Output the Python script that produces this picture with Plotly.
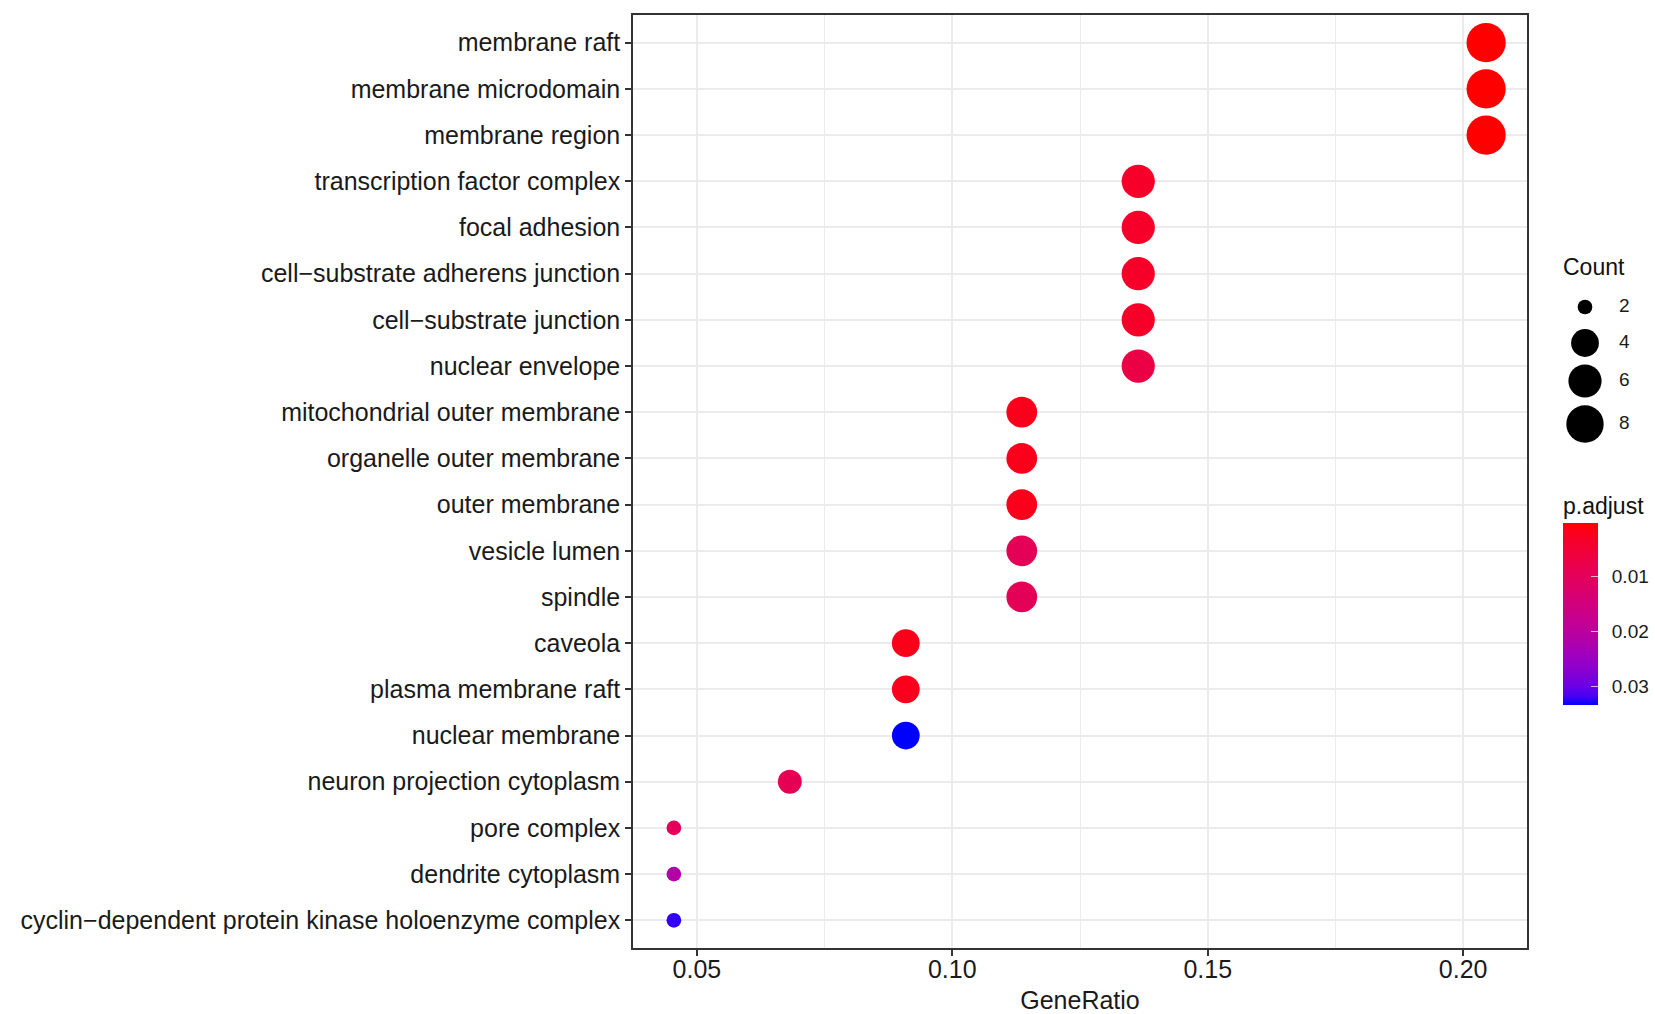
import plotly.graph_objects as go

# ---------------- data ----------------
terms = [
    "membrane raft", "membrane microdomain", "membrane region",
    "transcription factor complex", "focal adhesion",
    "cell\u2212substrate adherens junction", "cell\u2212substrate junction",
    "nuclear envelope", "mitochondrial outer membrane",
    "organelle outer membrane", "outer membrane", "vesicle lumen", "spindle",
    "caveola", "plasma membrane raft", "nuclear membrane",
    "neuron projection cytoplasm", "pore complex", "dendrite cytoplasm",
    "cyclin\u2212dependent protein kinase holoenzyme complex",
]
gene_ratio = [0.2045, 0.2045, 0.2045, 0.1364, 0.1364, 0.1364, 0.1364, 0.1364,
              0.1136, 0.1136, 0.1136, 0.1136, 0.1136, 0.0909, 0.0909, 0.0909,
              0.0682, 0.0455, 0.0455, 0.0455]
counts = [9, 9, 9, 6, 6, 6, 6, 6, 5, 5, 5, 5, 5, 4, 4, 4, 3, 2, 2, 2]
p_adjust = [0.0002, 0.0002, 0.0002, 0.0035, 0.0035, 0.0035, 0.0035, 0.0070,
            0.0020, 0.0020, 0.0020, 0.0095, 0.0095, 0.0018, 0.0022, 0.0333,
            0.0090, 0.0098, 0.0210, 0.0322]
x_ticks = [0.05, 0.10, 0.15, 0.20]
cb_ticks = [0.01, 0.02, 0.03]
size_legend = [2, 4, 6, 8]

# ---------------- style helpers ----------------
FONT = "Liberation Sans, Arial, Helvetica, sans-serif"
cmin_c, cmax_c = min(counts), max(counts)


def dot_size(c):
    # ggplot2 area palette, range c(3, 8), converted to pixels
    frac = (c - cmin_c) / (cmax_c - cmin_c)
    return 4.9 * (3 + 5 * frac ** 0.5)


def _lin(c):
    c = c / 255
    return c / 12.92 if c <= 0.04045 else ((c + 0.055) / 1.055) ** 2.4


def _gam(c):
    c = 12.92 * c if c <= 0.0031308 else 1.055 * c ** (1 / 2.4) - 0.055
    return max(0, min(255, round(c * 255)))


WP = (0.95047, 1.0, 1.08883)


def rgb2lab(rgb):
    r, g, b = (_lin(v) for v in rgb)
    X = 0.4124 * r + 0.3576 * g + 0.1805 * b
    Y = 0.2126 * r + 0.7152 * g + 0.0722 * b
    Z = 0.0193 * r + 0.1192 * g + 0.9505 * b
    def f(t):
        return t ** (1 / 3) if t > 0.008856 else 7.787 * t + 16 / 116
    fx, fy, fz = f(X / WP[0]), f(Y / WP[1]), f(Z / WP[2])
    return (116 * fy - 16, 500 * (fx - fy), 200 * (fy - fz))


def lab2rgb(lab):
    L, a, b = lab
    fy = (L + 16) / 116
    fx = fy + a / 500
    fz = fy - b / 200
    def fi(t):
        return t ** 3 if t ** 3 > 0.008856 else (t - 16 / 116) / 7.787
    X, Y, Z = fi(fx) * WP[0], fi(fy) * WP[1], fi(fz) * WP[2]
    r = 3.2406 * X - 1.5372 * Y - 0.4986 * Z
    g = -0.9689 * X + 1.8758 * Y + 0.0415 * Z
    bb = 0.0557 * X - 0.2040 * Y + 1.0570 * Z
    return "rgb(%d,%d,%d)" % (_gam(max(r, 0)), _gam(max(g, 0)), _gam(max(bb, 0)))


lab_blue = rgb2lab((0, 0, 255))
lab_red = rgb2lab((255, 0, 0))
N = 20
colorscale = []
for i in range(N + 1):
    t = i / N
    lab = tuple(lab_blue[k] + (lab_red[k] - lab_blue[k]) * t for k in range(3))
    colorscale.append([t, lab2rgb(lab)])

# ---------------- figure ----------------
W, H = 1655, 1014
ML, MR, MT, MB = 633, 5, 15, 66
plot_w = W - ML - MR
plot_h = H - MT - MB
panel_right = 1527
FS = 25

neg_p = [-v for v in p_adjust]

fig = go.Figure()
fig.add_trace(go.Scatter(
    x=gene_ratio, y=terms, mode="markers",
    marker=dict(
        size=[dot_size(c) for c in counts], sizemode="diameter",
        color=neg_p, cmin=-max(p_adjust), cmax=-min(p_adjust),
        colorscale=colorscale, line=dict(width=0), opacity=1,
        colorbar=dict(
            xref="container", yref="container",
            x=1563 / W, xanchor="left",
            y=(H - 568) / H, yanchor="top",
            lenmode="pixels", len=182, thickness=35,
            outlinewidth=0, xpad=0, ypad=0,
            tickvals=[-v for v in cb_ticks],
            ticktext=["\u2002%.2f" % v for v in cb_ticks],
            ticks="inside", ticklen=7, tickcolor="rgba(255,255,255,0.7)",
            tickwidth=1.2,
            tickfont=dict(family=FONT, size=19, color="#1a1a1a"),
        ),
    ),
    showlegend=False, hoverinfo="skip",
))

# size legend drawn on its own small axes
leg_y = [307, 343, 381, 424]
fig.add_trace(go.Scatter(
    x=[22] * len(size_legend), y=leg_y, mode="markers",
    marker=dict(size=[dot_size(c) for c in size_legend], color="#000000",
                opacity=1, line=dict(width=0)),
    cliponaxis=False,
    xaxis="x2", yaxis="y2", showlegend=False, hoverinfo="skip",
))
fig.add_trace(go.Scatter(
    x=[56] * len(size_legend), y=leg_y, mode="text",
    text=[str(c) for c in size_legend], textposition="middle right",
    textfont=dict(family=FONT, size=19, color="#1a1a1a"),
    cliponaxis=False,
    xaxis="x2", yaxis="y2", showlegend=False, hoverinfo="skip",
))

fig.add_annotation(
    text="Count", xref="paper", yref="paper",
    x=(1561 - ML) / plot_w, y=(H - MB - 267) / plot_h,
    xanchor="left", yanchor="middle", showarrow=False,
    font=dict(family=FONT, size=23, color="#111"),
)
fig.add_annotation(
    text="p.adjust", xref="paper", yref="paper",
    x=(1561 - ML) / plot_w, y=(H - MB - 506) / plot_h,
    xanchor="left", yanchor="middle", showarrow=False,
    font=dict(family=FONT, size=23, color="#111"),
)

grid_c = "#EBEBEB"
fig.update_layout(
    width=W, height=H,
    margin=dict(l=ML, r=MR, t=MT, b=MB, autoexpand=False),
    paper_bgcolor="white", plot_bgcolor="white",
    font=dict(family=FONT, color="#1a1a1a"),
    xaxis=dict(
        domain=[0, (panel_right - ML) / plot_w],
        range=[0.0375, 0.2125],
        tickvals=x_ticks, ticktext=["%.2f" % v for v in x_ticks],
        ticks="outside", ticklen=6, tickwidth=1.5, tickcolor="#333",
        ticklabelstandoff=-8,
        tickfont=dict(family=FONT, size=FS, color="#1a1a1a"),
        showgrid=True, gridcolor=grid_c, gridwidth=2.2,
        minor=dict(tick0=0.025, dtick=0.05, showgrid=True,
                   gridcolor=grid_c, gridwidth=1.1),
        showline=True, linecolor="#333", linewidth=1.6, mirror=True,
        zeroline=False,
        title=dict(text="GeneRatio", standoff=10,
                   font=dict(family=FONT, size=FS, color="#1a1a1a")),
    ),
    yaxis=dict(
        categoryorder="array", categoryarray=terms,
        range=[len(terms) - 0.4, -0.6],
        ticks="outside", ticklen=6, tickwidth=1.5, tickcolor="#333",
        tickfont=dict(family=FONT, size=FS, color="#1a1a1a"),
        showgrid=True, gridcolor=grid_c, gridwidth=2.2,
        showline=True, linecolor="#333", linewidth=1.6, mirror=True,
        zeroline=False,
    ),
    xaxis2=dict(
        domain=[(1563 - ML) / plot_w, 1.0], range=[0, W - MR - 1563],
        visible=False, fixedrange=True,
    ),
    yaxis2=dict(
        domain=[(H - MB - 445) / plot_h, (H - MB - 285) / plot_h],
        range=[445, 285], anchor="x2",
        visible=False, fixedrange=True,
    ),
)

fig.write_html("out.html", config={"displayModeBar": False},
               post_script="document.body.style.margin='0';"
                           "document.body.style.overflow='hidden';")
